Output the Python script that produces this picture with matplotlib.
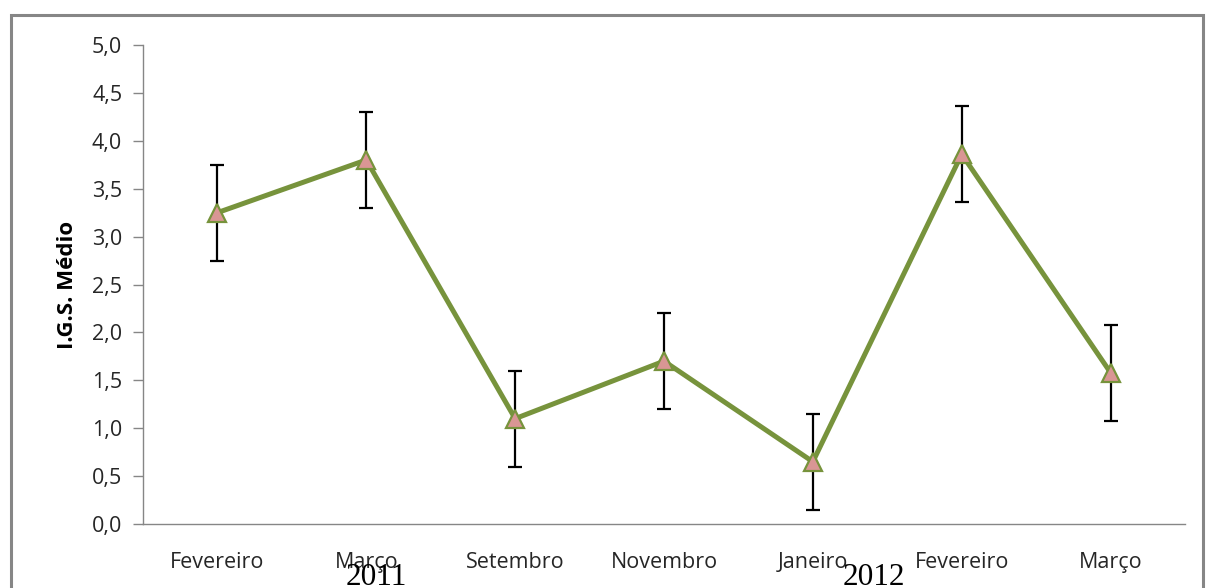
import matplotlib.pyplot as plt
from matplotlib.patches import Rectangle

# Monthly mean gonadosomatic index (I.G.S.) with standard deviation
months = ["Fevereiro", "Março", "Setembro", "Novembro", "Janeiro", "Fevereiro", "Março"]
igs_mean = [3.25, 3.80, 1.10, 1.70, 0.65, 3.86, 1.58]
igs_err = [0.5, 0.5, 0.5, 0.5, 0.5, 0.5, 0.5]
yticks = [0.0, 0.5, 1.0, 1.5, 2.0, 2.5, 3.0, 3.5, 4.0, 4.5, 5.0]
years = ["2011", "2012"]
year_pos = [1.065, 4.41]

LINE_GREEN = "#77933C"
MARKER_PINK = "#D99694"
AXIS_GRAY = "#868686"

plt.rcParams["font.family"] = ["Open Sans", "DejaVu Sans"]

fig = plt.figure(figsize=(12.13, 5.88), dpi=100)
ax = fig.add_axes([0.1179, 0.1088, 0.8590, 0.8147])

x = list(range(len(months)))
ax.errorbar(x, igs_mean, yerr=igs_err, fmt="none", ecolor="black",
            elinewidth=1.6, capsize=4.7, capthick=1.6, zorder=2)
ax.plot(x, igs_mean, color=LINE_GREEN, linewidth=3.6, zorder=3,
        marker="^", markersize=13, markerfacecolor=MARKER_PINK,
        markeredgecolor=LINE_GREEN, markeredgewidth=1.6)

ax.set_xlim(-0.5, len(months) - 0.5)
ax.set_ylim(0, 5)
ax.set_xticks(x)
ax.set_xticklabels(months, fontsize=15.5, color="#262626")
ax.set_yticks(yticks)
ax.set_yticklabels([f"{v:.1f}".replace(".", ",") for v in yticks],
                   fontsize=15.5, color="#262626")
ax.tick_params(axis="x", length=0, pad=20)
ax.tick_params(axis="y", length=7, width=1, color=AXIS_GRAY, pad=8)

for side in ("top", "right"):
    ax.spines[side].set_visible(False)
for side in ("left", "bottom"):
    ax.spines[side].set_color(AXIS_GRAY)
    ax.spines[side].set_linewidth(1)

ax.set_ylabel("I.G.S. Médio", fontsize=16, fontweight="bold", labelpad=10)

# Year captions below the month labels
for label, xpos in zip(years, year_pos):
    ax.text(xpos, -0.082, label, transform=ax.get_xaxis_transform(),
            ha="center", va="top", fontsize=22.5, family="Liberation Serif",
            clip_on=False)

# Outer chart frame (bottom edge runs off the canvas)
fig.patches.append(Rectangle((0.009, -0.05), 0.983, 1.0245,
                             transform=fig.transFigure, fill=False,
                             edgecolor=AXIS_GRAY, linewidth=2.2))

fig.savefig("out.png", dpi=100)
